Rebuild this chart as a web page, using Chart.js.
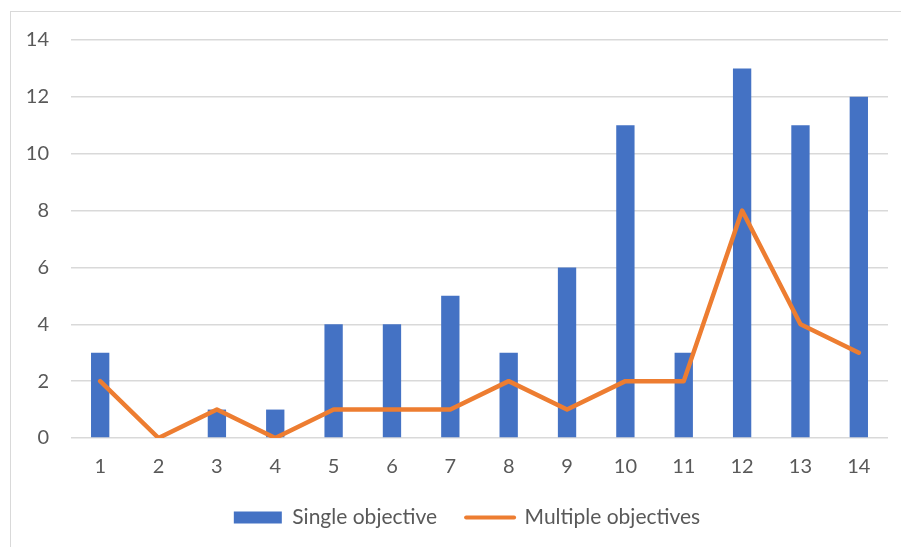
<!DOCTYPE html>
<html>
<head>
<meta charset="utf-8">
<script src="https://cdn.jsdelivr.net/npm/chart.js@4.4.1/dist/chart.umd.min.js"></script>
<style>
  html, body { margin: 0; padding: 0; background: #ffffff; overflow: hidden; }
  #wrap { position: relative; width: 901px; height: 547px; }
  #frame { position: absolute; left: 10px; top: 11px; width: 1000px; height: 1000px;
           border: 1px solid #d9d9d9; pointer-events: none; box-sizing: border-box; }
</style>
</head>
<body>
<div id="wrap">
  <canvas id="chart" width="901" height="547"></canvas>
  <div id="frame"></div>
</div>
<script>
// Categories along the x axis
const categories = ['1','2','3','4','5','6','7','8','9','10','11','12','13','14'];
// Counts per category
const singleObjective = [3, 0, 1, 1, 4, 4, 5, 3, 6, 11, 3, 13, 11, 12];
const multipleObjectives = [2, 0, 1, 0, 1, 1, 1, 2, 1, 2, 2, 8, 4, 3];
// Y axis range and step
const yMin = 0, yMax = 14, yStep = 2;

const BLUE = '#4472C4';
const ORANGE = '#ED7D31';
const TEXT = '#595959';
const GRID = '#d9d9d9';
const FONT = 'Lato, "Open Sans", sans-serif';

// Nudges the legend so it sits centred under the plot, a little higher
const legendNudge = {
  id: 'legendNudge',
  afterLayout(chart) {
    const lg = chart.legend;
    if (!lg) return;
    lg.left += 23; lg.right += 23;
    lg.top -= 9; lg.bottom -= 9;
  }
};

new Chart(document.getElementById('chart'), {
  data: {
    labels: categories,
    datasets: [
      {
        type: 'line',
        label: 'Multiple objectives',
        data: multipleObjectives,
        borderColor: ORANGE,
        backgroundColor: ORANGE,
        borderWidth: 4.5,
        pointRadius: 0,
        pointHoverRadius: 0,
        tension: 0,
        borderJoinStyle: 'round',
        borderCapStyle: 'round',
        order: 0
      },
      {
        type: 'bar',
        label: 'Single objective',
        data: singleObjective,
        backgroundColor: BLUE,
        borderWidth: 0,
        categoryPercentage: 1,
        barPercentage: 0.314,
        order: 1
      }
    ]
  },
  plugins: [legendNudge],
  options: {
    responsive: false,
    animation: false,
    layout: { padding: { left: 0, right: 13, top: 40, bottom: 0 } },
    plugins: {
      tooltip: { enabled: false },
      legend: {
        position: 'bottom',
        reverse: true,
        labels: {
          color: TEXT,
          font: { family: FONT, size: 21 },
          usePointStyle: true,
          pointStyleWidth: 48,
          boxHeight: 12,
          padding: 29,
          generateLabels(chart) {
            const items = Chart.defaults.plugins.legend.labels.generateLabels(chart);
            items.forEach(it => {
              const ds = chart.data.datasets[it.datasetIndex];
              if (ds.type === 'line') {
                it.pointStyle = 'line';
                it.strokeStyle = ORANGE;
                it.lineWidth = 4;
                it.lineCap = 'round';
              } else {
                it.pointStyle = 'rect';
                it.fillStyle = BLUE;
                it.lineWidth = 0;
                it.strokeStyle = BLUE;
              }
            });
            return items;
          }
        }
      }
    },
    scales: {
      x: {
        offset: true,
        grid: { display: false, drawTicks: false },
        border: { display: false },
        ticks: { color: TEXT, font: { family: FONT, size: 20 }, padding: 17, maxRotation: 0, autoSkip: false },
        afterFit(scale) { scale.height = 49; }
      },
      y: {
        min: yMin,
        max: yMax,
        grid: { color: GRID, lineWidth: 1.5, drawTicks: false },
        border: { display: false },
        ticks: { stepSize: yStep, color: TEXT, font: { family: FONT, size: 20 }, padding: 22 },
        afterFit(scale) { scale.width = 71; }
      }
    }
  }
});
</script>
</body>
</html>
